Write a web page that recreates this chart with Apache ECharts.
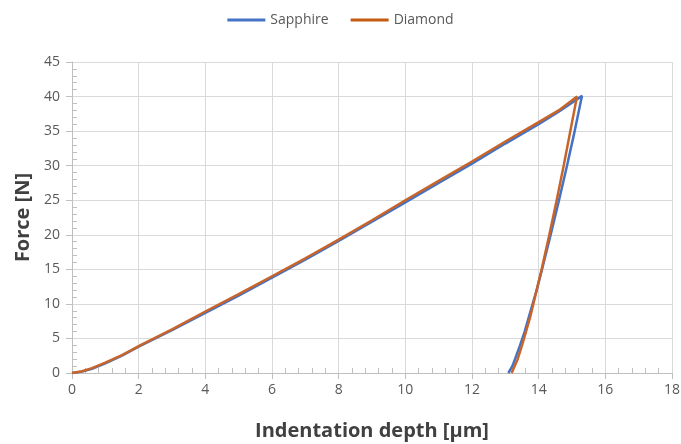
<!DOCTYPE html>
<html>
<head>
<meta charset="utf-8">
<script src="https://cdn.jsdelivr.net/npm/echarts@6/dist/echarts.min.js"></script>
<style>
    html, body { margin: 0; padding: 0; background: #fff; }
    #chart { width: 681px; height: 444px; }
</style>
</head>
<body>
<div id="chart"></div>
<script>
    // indentation depth [µm] / force [N], loading then unloading
    const sapphireDepth = [0, 0.3, 0.6, 1, 1.5, 2, 3, 4, 5, 6, 7, 8, 9, 10, 11, 12, 13, 14, 14.6, 15.3,
        15.08, 14.85, 14.61, 14.36, 14.1, 13.94, 13.82, 13.7, 13.58, 13.44, 13.29, 13.21, 13.09];
    const sapphireForce = [0, 0.2, 0.6, 1.4, 2.5, 3.8, 6.2, 8.7, 11.2, 13.8, 16.4, 19.1, 21.9, 24.7, 27.5, 30.3, 33.2, 36.0, 37.8, 40.1,
        35, 30, 25, 20, 15, 12, 10, 8, 6, 4, 2, 1, 0];

    const diamondDepth = [0, 0.3, 0.6, 1, 1.5, 2, 3, 4, 5, 6, 7, 8, 9, 10, 11, 12, 13, 14, 14.6, 15.15,
        14.95, 14.75, 14.54, 14.32, 14.09, 13.94, 13.84, 13.74, 13.62, 13.5, 13.37, 13.28, 13.19];
    const diamondForce = [0, 0.25, 0.7, 1.5, 2.6, 3.9, 6.3, 8.9, 11.4, 14.0, 16.6, 19.3, 22.1, 25.0, 27.8, 30.6, 33.5, 36.3, 38.0, 40.0,
        35, 30, 25, 20, 15, 12, 10, 8, 6, 4, 2, 1, 0];

    const pairs = (xs, ys) => xs.map((x, i) => [x, ys[i]]);

    const chart = echarts.init(document.getElementById('chart'));
    const font = 'Open Sans';
    const axisGray = '#bfbfbf';

    chart.setOption({
        animation: false,
        textStyle: { fontFamily: font },
        legend: {
            top: 8,
            left: 'center',
            itemWidth: 38,
            itemHeight: 3,
            itemGap: 22,
            icon: 'rect',
            textStyle: { color: '#595959', fontSize: 14, fontFamily: font },
            data: ['Sapphire', 'Diamond']
        },
        grid: { left: 72, right: 9, top: 62, bottom: 71, outerBoundsMode: 'none' },
        xAxis: [{
            type: 'value',
            position: 'bottom',
            min: 0, max: 18, interval: 2,
            name: 'Indentation depth [µm]',
            nameLocation: 'middle',
            nameGap: 48,
            nameTextStyle: { color: '#404040', fontSize: 20, fontWeight: 'bold', fontFamily: font },
            axisLine: { lineStyle: { color: axisGray, width: 1 } },
            axisTick: { show: true, length: 6, lineStyle: { color: axisGray } },
            axisLabel: { color: '#595959', fontSize: 14, margin: 10 },
            splitLine: { lineStyle: { color: '#d9d9d9', width: 1 } }
        }, {
            // inner minor ticks only
            type: 'value',
            position: 'bottom',
            min: 0, max: 18, interval: 2,
            axisLine: { show: false },
            axisTick: { show: false, inside: true },
            minorTick: { show: true, splitNumber: 5, length: 5, lineStyle: { color: axisGray } },
            axisLabel: { show: false },
            splitLine: { show: false }
        }],
        yAxis: [{
            type: 'value',
            position: 'left',
            min: 0, max: 45, interval: 5,
            name: 'Force [N]',
            nameLocation: 'middle',
            nameGap: 35,
            nameTextStyle: { color: '#404040', fontSize: 20, fontWeight: 'bold', fontFamily: font },
            axisLine: { show: true, lineStyle: { color: axisGray, width: 1 } },
            axisTick: { show: true, length: 6, lineStyle: { color: axisGray } },
            axisLabel: { color: '#595959', fontSize: 14, margin: 12 },
            splitLine: { lineStyle: { color: '#d9d9d9', width: 1 } }
        }, {
            type: 'value',
            position: 'left',
            min: 0, max: 45, interval: 5,
            axisLine: { show: false },
            axisTick: { show: false, inside: true },
            minorTick: { show: true, splitNumber: 5, length: 5, lineStyle: { color: axisGray } },
            axisLabel: { show: false },
            splitLine: { show: false }
        }],
        series: [{
            name: 'Sapphire',
            type: 'line',
            showSymbol: false,
            data: pairs(sapphireDepth, sapphireForce),
            itemStyle: { color: '#4472c4' },
            lineStyle: { color: '#4472c4', width: 2.5 }
        }, {
            name: 'Diamond',
            type: 'line',
            showSymbol: false,
            data: pairs(diamondDepth, diamondForce),
            itemStyle: { color: '#c55a11' },
            lineStyle: { color: '#c8642a', width: 2.5 }
        }]
    });
</script>
</body>
</html>
